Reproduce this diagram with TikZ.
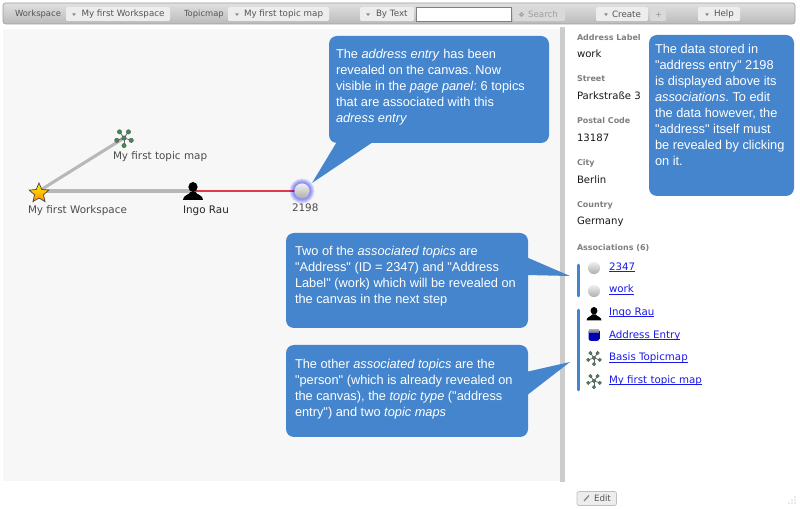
\documentclass[tikz,border=0pt]{standalone}
\usepackage{fontspec}
\setmainfont{DejaVu Sans}
\newfontfamily\callfont{Liberation Sans}
\usetikzlibrary{shapes.geometric}
\definecolor{callblue}{HTML}{4485CD}
\definecolor{canvasbg}{HTML}{F7F7F7}
\definecolor{splitgray}{HTML}{CCCCCC}
\definecolor{uitext}{HTML}{555555}
\definecolor{btnbg}{HTML}{EDEDED}
\definecolor{linkblue}{HTML}{1A1AE6}
\definecolor{mapgreen}{HTML}{3F8A58}
\definecolor{edgered}{HTML}{E23A48}
\newcommand\ulnk[1]{\setbox0=\hbox{#1}\rlap{\rule[-1pt]{\wd0}{.5pt}}\box0}
\tikzset{
  x=0.75pt,y=-0.75pt,
  every node/.style={inner sep=0pt,outer sep=0pt},
  tbtext/.style={font=\fontsize{6.3}{7.5}\selectfont,text=uitext,anchor=west},
  tbvalue/.style={font=\fontsize{6.55}{7.5}\selectfont,text=uitext,anchor=west},
  tbbtn/.style={fill=btnbg,rounded corners=1pt},
  tboff/.style={fill=black!15,rounded corners=1pt},
  canvaslabel/.style={font=\fontsize{7.8}{9}\selectfont,text=black!70,anchor=north west},
  fieldlabel/.style={font=\fontsize{6}{8}\bfseries\selectfont,text=black!50,anchor=west},
  fieldvalue/.style={font=\fontsize{7.6}{9}\selectfont,text=black!90,anchor=west},
  assoclink/.style={font=\fontsize{7.7}{9}\selectfont,text=linkblue,anchor=west,text height=6pt,text depth=1.5pt},
  calltext/.style={font=\callfont\fontsize{9.6}{12}\selectfont\frenchspacing,text=white,anchor=north west,align=left},
  callbox/.style={fill=callblue,rounded corners=6pt},
  callmark/.style={fill=callblue},
  assocbar/.style={draw=callblue,line width=2.2pt,line cap=round},
  greyedge/.style={draw=black!28,line width=2.3pt},
  rededge/.style={draw=edgered,line width=2pt},
  tbarrow/.pic={\fill[black!45] (-2,-1.2) -- (2,-1.2) -- (0,1.6) -- cycle;},
  ball/.pic={
    \shade[top color=black!6,bottom color=black!32] (0,0) circle (7.6);
  },
  person/.pic={
    \fill[black] (0,-3) ellipse (4.6 and 5);
    \fill[black] (-10,10) .. controls (-10,5) and (-4,5) .. (-2.5,2) -- (2.5,2) .. controls (4,5) and (10,5) .. (10,10) -- cycle;
  },
  tmap/.pic={
    \foreach \a in {90,18,162,234,306}{
      \draw[black!60,line width=.6pt] (0,0) -- (\a:7.6);
      \fill[mapgreen,draw=black!65,line width=.3pt] (\a:7.6) circle (2.2);
    }
    \fill[mapgreen,draw=black!65,line width=.3pt] (0,0) circle (2.2);
  },
  cube/.pic={
    \shade[top color=blue!65!black,bottom color=blue!75!black,rounded corners=1.5pt] (-5.3,-5.8) rectangle (5.3,5.8);
    \shade[top color=black!35,bottom color=blue!40!black!60] (-5,-5.4) rectangle (5,-2.6);
  }
}
\begin{document}
\begin{tikzpicture}
\useasboundingbox (0,0) rectangle (800,509);
\fill[white] (0,0) rectangle (800,509);
% toolbar
\shade[top color=black!12,bottom color=black!27,rounded corners=2pt,draw=black!38,line width=.5pt] (3,3) rectangle (795,24);
\fill[canvasbg] (3,29) rectangle (560,481);
\fill[splitgray] (560,27) rectangle (564.5,482);
\node[tbtext] (tbWs) at (15,14.5) {Workspace};
\fill[tbbtn] (66,7) rectangle (170,21);
\pic at (74,14.5) {tbarrow};
\node[tbvalue] (tbWsVal) at (81.5,14.5) {My first Workspace};
\node[tbtext] (tbTm) at (184,14.5) {Topicmap};
\fill[tbbtn] (228,7) rectangle (329,21);
\pic at (237,14.5) {tbarrow};
\node[tbvalue] (tbTmVal) at (244,14.5) {My first topic map};
\fill[tbbtn] (360,7) rectangle (414,21);
\pic at (368,14.5) {tbarrow};
\node[tbvalue] (tbText) at (376,14.5) {By Text};
\draw[fill=white,draw=black!50,line width=.6pt] (416.5,7) rectangle (511,21);
\fill[tboff] (513,7) rectangle (565,21);
\draw[black!35,line width=.9pt] (521.5,14.5) circle (1.8);
\node[tbvalue,text=black!38] (tbSearch) at (528,14.5) {Search};
\fill[tbbtn] (596,7) rectangle (648,21);
\pic at (606,14.5) {tbarrow};
\node[tbvalue] (tbCreate) at (612,14.5) {Create};
\fill[tboff] (650,7) rectangle (666,21);
\node[tbtext,text=black!40] (tbPlus) at (655,14.5) {+};
\fill[tbbtn] (698,7) rectangle (740,21);
\pic at (707,14.5) {tbarrow};
\node[tbvalue] (tbHelp) at (714,14.5) {Help};
% graph
\coordinate (wsN) at (39,191);
\coordinate (mapN) at (124,138);
\coordinate (personN) at (193,191);
\coordinate (addrN) at (302,191);
\draw[greyedge] (wsN) -- (mapN);
\draw[greyedge] (wsN) -- (personN);
\draw[rededge] (personN) -- (addrN);
\foreach \r in {12.5,11.5,10.5,9.5,8.5}{\fill[blue,opacity=.11] (addrN) circle (\r);}
\pic at (addrN) {ball};
\pic at (193,190) {person};
\pic at (mapN) {tmap};
\node[star,star points=5,star point ratio=2.2,minimum size=15.5pt,top color=yellow!90!orange,bottom color=orange!90!yellow,draw=black!75,line width=.5pt] (starIcon) at (39,193.3) {};
\node[canvaslabel] (mapL) at (113,151.5) {My first topic map};
\node[canvaslabel] (wsL) at (28,206) {My first Workspace};
\node[canvaslabel,text=black!85] (perL) at (183,206) {Ingo Rau};
\node[canvaslabel] (addrL) at (292,204) {2198};
% page panel
\node[fieldlabel] (f1) at (577,38) {Address Label};
\node[fieldvalue] (v1) at (577,53.5) {work};
\node[fieldlabel] (f2) at (577,79) {Street};
\node[fieldvalue] (v2) at (577,95.5) {Parkstraße 3};
\node[fieldlabel] (f3) at (577,121) {Postal Code};
\node[fieldvalue] (v3) at (577,138) {13187};
\node[fieldlabel] (f4) at (577,163) {City};
\node[fieldvalue] (v4) at (577,179.5) {Berlin};
\node[fieldlabel] (f5) at (577,205.5) {Country};
\node[fieldvalue] (v5) at (577,221.5) {Germany};
\node[fieldlabel] (f6) at (577,248) {Associations (6)};
\pic[scale=.8] at (594,268) {ball};
\pic[scale=.8] at (594,291) {ball};
\pic[scale=.75] at (594,313) {person};
\pic at (594,335) {cube};
\pic[scale=.8] at (594,358) {tmap};
\pic[scale=.8] at (594,381) {tmap};
\node[assoclink] (a1) at (609,267.5) {\ulnk{2347}};
\node[assoclink] (a2) at (609,290) {\ulnk{work}};
\node[assoclink] (a3) at (609,312.5) {\ulnk{Ingo Rau}};
\node[assoclink] (a4) at (609,335.5) {\ulnk{Address Entry}};
\node[assoclink] (a5) at (609,358) {\ulnk{Basis Topicmap}};
\node[assoclink] (a6) at (609,380.5) {\ulnk{My first topic map}};
\coordinate (b1a) at (578.5,265);
\coordinate (b1b) at (578.5,296);
\coordinate (b2a) at (578.5,310);
\coordinate (b2b) at (578.5,390);
\draw[assocbar] (b1a) -- (b1b);
\draw[assocbar] (b2a) -- (b2b);
% edit button
\draw[fill=btnbg,draw=black!25,rounded corners=1.5pt,line width=.5pt] (577,491.5) rectangle (616.5,505.5);
\draw[black!50,line width=.9pt] (584,501) -- (589,495.5);
\node[tbvalue] (editL) at (594,498.5) {Edit};
\foreach \p in {(795,503),(792,503),(789,503),(795,500),(792,500),(795,497)}{\fill[black!35] \p circle (.6);}
% callouts
\fill[callmark] (338,140) -- (312,183) -- (376,140) -- cycle;
\fill[callbox] (329,36) rectangle (549,143);
\node[calltext] (c1) at (336,49) {The \textit{address entry} has been\\revealed on the canvas. Now\\visible in the \textit{page panel}: 6 topics\\that are associated with this\\\textit{adress entry}};
\fill[callbox] (649,35) rectangle (794,196);
\node[calltext] (c2) at (655,44) {The data stored in\\"address entry" 2198\\is displayed above its\\\textit{associations}. To edit\\the data however, the\\"address" itself must\\be revealed by clicking\\on it.};
\fill[callmark] (526,257) -- (570,276) -- (526,275) -- cycle;
\fill[callbox] (286,233) rectangle (528,328);
\node[calltext] (c3) at (295,246) {Two of the \textit{associated topics} are\\"Address" (ID = 2347) and "Address\\Label" (work) which will be revealed on\\the canvas in the next step};
\fill[callmark] (526,372) -- (570,362) -- (526,396) -- cycle;
\fill[callbox] (286,345) rectangle (528,437);
\node[calltext] (c4) at (295,359) {The other \textit{associated topics} are the\\"person" (which is already revealed on\\the canvas), the \textit{topic type} ("address\\entry") and two \textit{topic maps}};
\end{tikzpicture}
\end{document}
